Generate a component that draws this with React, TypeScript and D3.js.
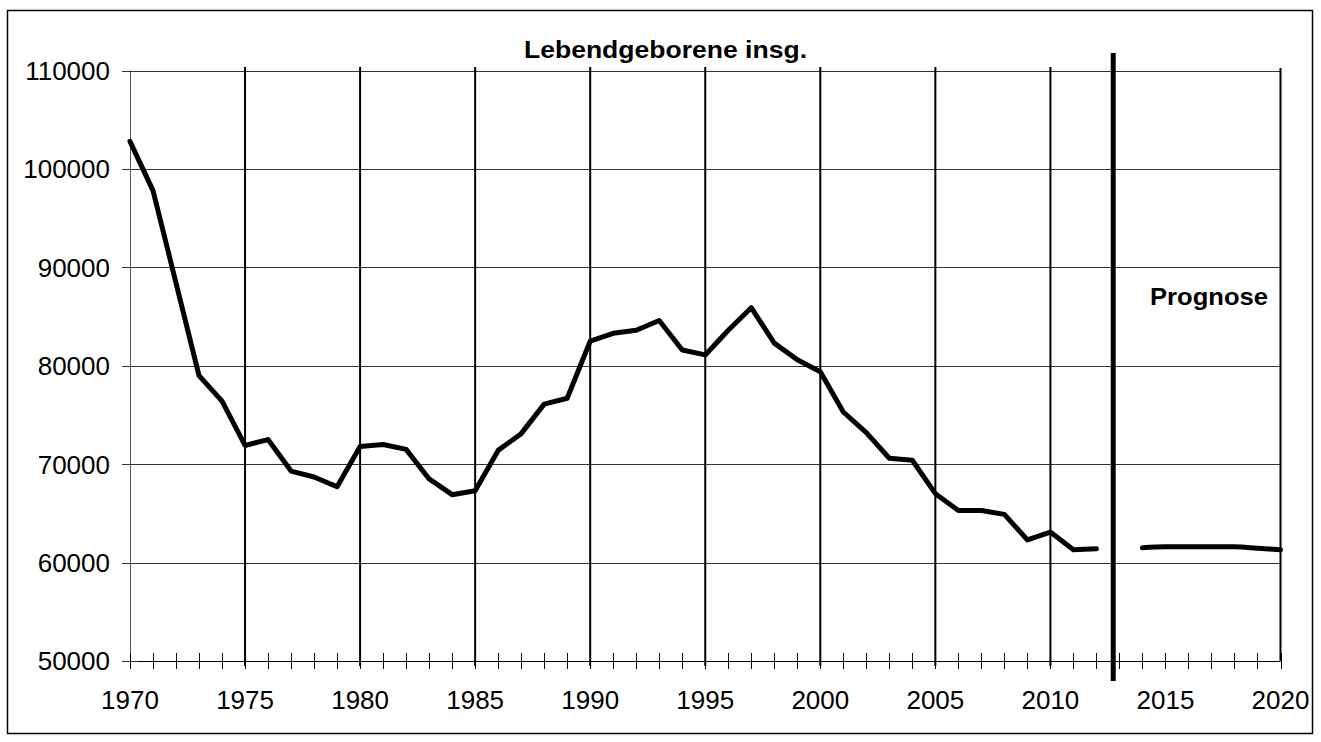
import { useEffect, useRef } from 'react';
import * as d3 from 'd3';

// Lebendgeborene insgesamt (Ist)
const years = [
  1970, 1971, 1972, 1973, 1974, 1975, 1976, 1977, 1978, 1979,
  1980, 1981, 1982, 1983, 1984, 1985, 1986, 1987, 1988, 1989,
  1990, 1991, 1992, 1993, 1994, 1995, 1996, 1997, 1998, 1999,
  2000, 2001, 2002, 2003, 2004, 2005, 2006, 2007, 2008, 2009,
  2010, 2011, 2012,
];
const births = [
  102800, 97800, 88400, 79000, 76400, 71900, 72500, 69300, 68700, 67700,
  71800, 72000, 71500, 68500, 66900, 67300, 71400, 73100, 76100, 76700,
  82500, 83300, 83600, 84600, 81600, 81100, 83600, 85900, 82300, 80600,
  79400, 75300, 73200, 70600, 70400, 67000, 65300, 65300, 64900, 62300,
  63100, 61300, 61400,
];

// Prognose
const prognoseYears = [2014, 2015, 2016, 2017, 2018, 2019, 2020];
const prognoseBirths = [61500, 61600, 61600, 61600, 61600, 61450, 61300];

const prognoseStart = 2012.73;
const yTicks = [50000, 60000, 70000, 80000, 90000, 100000, 110000];
const xLabelYears = [1970, 1975, 1980, 1985, 1990, 1995, 2000, 2005, 2010, 2015, 2020];

const W = 1321;
const H = 742;
const FONT = '"Liberation Sans", Arial, sans-serif';

const App = () => {
  const svgRef = useRef<SVGSVGElement | null>(null);

  useEffect(() => {
    if (!svgRef.current) return;
    const svg = d3.select(svgRef.current);
    svg.selectAll('*').remove();

    const x = d3.scaleLinear().domain([1970, 2020]).range([130, 1280.5]);
    const y = d3.scaleLinear().domain([50000, 110000]).range([661, 70.5]);

    // outer frame
    svg.append('rect')
      .attr('x', 7.5).attr('y', 10.5)
      .attr('width', 1305).attr('height', 723)
      .attr('fill', '#fff')
      .attr('stroke', '#000')
      .attr('stroke-width', 1.5);

    // horizontal gridlines
    svg.append('g')
      .selectAll('line')
      .data(yTicks.filter(d => d > 50000))
      .join('line')
      .attr('x1', x(1970)).attr('x2', x(2020))
      .attr('y1', d => Math.round(y(d)) + 0.5)
      .attr('y2', d => Math.round(y(d)) + 0.5)
      .attr('stroke', '#333')
      .attr('stroke-width', 1);

    // vertical 5-year lines
    svg.append('g')
      .selectAll('line')
      .data(d3.range(1975, 2015, 5))
      .join('line')
      .attr('x1', d => x(d)).attr('x2', d => x(d))
      .attr('y1', 67).attr('y2', 666)
      .attr('stroke', '#000')
      .attr('stroke-width', 2);

    // right edge (2020)
    svg.append('line')
      .attr('x1', x(2020)).attr('x2', x(2020))
      .attr('y1', 68).attr('y2', y(50000))
      .attr('stroke', '#000')
      .attr('stroke-width', 2);

    // y axis line
    svg.append('line')
      .attr('x1', x(1970) + 0.5).attr('x2', x(1970) + 0.5)
      .attr('y1', y(110000)).attr('y2', y(50000))
      .attr('stroke', '#555')
      .attr('stroke-width', 1);

    // x axis line
    svg.append('line')
      .attr('x1', x(1970)).attr('x2', x(2020))
      .attr('y1', y(50000) + 0.5).attr('y2', y(50000) + 0.5)
      .attr('stroke', '#000')
      .attr('stroke-width', 1);

    // y ticks + labels
    const yg = svg.append('g');
    yg.selectAll('line')
      .data(yTicks)
      .join('line')
      .attr('x1', 122).attr('x2', 138)
      .attr('y1', d => Math.round(y(d)) + 0.5)
      .attr('y2', d => Math.round(y(d)) + 0.5)
      .attr('stroke', '#333');
    yg.selectAll('text')
      .data(yTicks)
      .join('text')
      .attr('x', 110)
      .attr('y', d => y(d))
      .attr('dy', '0.36em')
      .attr('text-anchor', 'end')
      .attr('font-family', FONT)
      .attr('font-size', 26)
      .attr('fill', '#000')
      .text(d => String(d));

    // x minor ticks (yearly)
    svg.append('g')
      .selectAll('line')
      .data(d3.range(1970, 2021))
      .join('line')
      .attr('x1', d => Math.round(x(d)) + 0.5)
      .attr('x2', d => Math.round(x(d)) + 0.5)
      .attr('y1', 653).attr('y2', 669)
      .attr('stroke', '#000')
      .attr('stroke-width', 1);

    svg.append('g')
      .selectAll('text')
      .data(xLabelYears)
      .join('text')
      .attr('x', d => x(d))
      .attr('y', 709)
      .attr('text-anchor', 'middle')
      .attr('font-family', FONT)
      .attr('font-size', 26)
      .attr('fill', '#000')
      .text(d => String(d));

    // Prognose separator
    svg.append('line')
      .attr('x1', x(prognoseStart)).attr('x2', x(prognoseStart))
      .attr('y1', 53).attr('y2', 681)
      .attr('stroke', '#000')
      .attr('stroke-width', 5);

    // data lines
    const line = d3.line<[number, number]>()
      .x(d => x(d[0]))
      .y(d => y(d[1]));

    svg.append('path')
      .datum(years.map((yr, i) => [yr, births[i]] as [number, number]))
      .attr('d', line)
      .attr('fill', 'none')
      .attr('stroke', '#000')
      .attr('stroke-width', 5)
      .attr('stroke-linejoin', 'round')
      .attr('stroke-linecap', 'round');

    svg.append('path')
      .datum(prognoseYears.map((yr, i) => [yr, prognoseBirths[i]] as [number, number]))
      .attr('d', line.curve(d3.curveMonotoneX))
      .attr('fill', 'none')
      .attr('stroke', '#000')
      .attr('stroke-width', 5)
      .attr('stroke-linejoin', 'round')
      .attr('stroke-linecap', 'round');

    // titles
    svg.append('text')
      .attr('x', 524)
      .attr('y', 58)
      .attr('font-family', FONT)
      .attr('font-weight', 'bold')
      .attr('font-size', 24)
      .attr('textLength', 283)
      .attr('lengthAdjust', 'spacingAndGlyphs')
      .text('Lebendgeborene insg.');

    svg.append('text')
      .attr('x', 1150)
      .attr('y', 305)
      .attr('font-family', FONT)
      .attr('font-weight', 'bold')
      .attr('font-size', 24)
      .attr('textLength', 118)
      .attr('lengthAdjust', 'spacingAndGlyphs')
      .text('Prognose');
  }, []);

  return (
    <svg
      ref={svgRef}
      width={W}
      height={H}
      style={{ position: 'absolute', left: 0, top: 0, background: '#fff' }}
    />
  );
};

export default App;
